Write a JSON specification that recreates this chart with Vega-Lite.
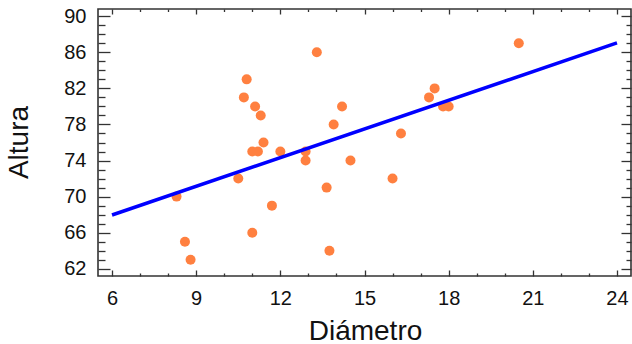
{
  "$schema": "https://vega.github.io/schema/vega-lite/v6.json",
  "width": 533,
  "height": 267,
  "autosize": {"type": "none"},
  "padding": {"left": 98, "top": 9, "right": 1, "bottom": 68},
  "background": "white",
  "config": {
    "view": {"stroke": "#333333", "strokeWidth": 1.6},
    "axis": {"grid": false, "domain": false, "tickColor": "#333333", "tickWidth": 1.3, "labelFont": "Liberation Sans", "titleFont": "Liberation Sans", "labelColor": "#111111", "titleColor": "#111111", "labelFontSize": 20, "titleFontWeight": "normal"}
  },
  "datasets": {
    "pts": [
      {"d": 13.3, "a": 86}, {"d": 10.8, "a": 83}, {"d": 10.7, "a": 81}, {"d": 11.1, "a": 80},
      {"d": 11.3, "a": 79}, {"d": 14.2, "a": 80}, {"d": 13.9, "a": 78}, {"d": 11.4, "a": 76},
      {"d": 11.0, "a": 75}, {"d": 11.2, "a": 75}, {"d": 12.0, "a": 75}, {"d": 12.9, "a": 75},
      {"d": 12.9, "a": 74}, {"d": 14.5, "a": 74}, {"d": 10.5, "a": 72}, {"d": 8.3, "a": 70},
      {"d": 13.65, "a": 71}, {"d": 11.7, "a": 69}, {"d": 11.0, "a": 66}, {"d": 8.6, "a": 65},
      {"d": 8.8, "a": 63}, {"d": 13.75, "a": 64}, {"d": 20.5, "a": 87}, {"d": 17.5, "a": 82},
      {"d": 17.3, "a": 81}, {"d": 17.8, "a": 80}, {"d": 18.0, "a": 80}, {"d": 16.3, "a": 77},
      {"d": 16.0, "a": 72}
    ],
    "fit": [{"d": 6, "a": 67.96}, {"d": 24, "a": 87.04}]
  },
  "resolve": {"axis": {"x": "independent", "y": "independent"}},
  "layer": [
    {
      "data": {"name": "pts"},
      "mark": {"type": "circle", "color": "#FF8040", "opacity": 1, "size": 100},
      "encoding": {
        "x": {"field": "d", "type": "quantitative", "scale": {"domain": [5.5, 24.5], "nice": false, "zero": false},
          "axis": {"orient": "bottom", "values": [6, 9, 12, 15, 18, 21, 24], "tickSize": -6, "labelPadding": 18.5, "title": "Diámetro", "titleFontSize": 28, "titleBaseline": "alphabetic", "titleX": 267, "titleY": 63, "titleAlign": "center"}},
        "y": {"field": "a", "type": "quantitative", "scale": {"domain": [61.2, 90.8], "nice": false, "zero": false},
          "axis": {"orient": "left", "values": [62, 66, 70, 74, 78, 82, 86, 90], "tickSize": -12, "labelPadding": 24, "title": "Altura", "titleFontSize": 28, "titleAngle": -90, "titleBaseline": "alphabetic", "titleX": -71, "titleY": 133, "titleAlign": "center"}}
      }
    },
    {
      "data": {"name": "fit"},
      "mark": {"type": "line", "color": "#0000FF", "strokeWidth": 3.5},
      "encoding": {
        "x": {"field": "d", "type": "quantitative",
          "axis": {"orient": "bottom", "values": [7, 8, 10, 11, 13, 14, 16, 17, 19, 20, 22, 23], "tickSize": -3, "labels": false, "title": null}},
        "y": {"field": "a", "type": "quantitative",
          "axis": {"orient": "left", "values": [63, 64, 65, 67, 68, 69, 71, 72, 73, 75, 76, 77, 79, 80, 81, 83, 84, 85, 87, 88, 89], "tickSize": -7, "labels": false, "title": null}}
      }
    },
    {
      "data": {"name": "fit"},
      "mark": {"type": "line", "opacity": 0},
      "encoding": {
        "x": {"field": "d", "type": "quantitative",
          "axis": {"orient": "top", "values": [6, 9, 12, 15, 18, 21, 24], "tickSize": -5, "labels": false, "title": null}},
        "y": {"field": "a", "type": "quantitative",
          "axis": {"orient": "right", "values": [62, 66, 70, 74, 78, 82, 86, 90], "tickSize": -10, "labels": false, "title": null}}
      }
    },
    {
      "data": {"name": "fit"},
      "mark": {"type": "line", "opacity": 0},
      "encoding": {
        "x": {"field": "d", "type": "quantitative",
          "axis": {"orient": "top", "values": [7, 8, 10, 11, 13, 14, 16, 17, 19, 20, 22, 23], "tickSize": -2.5, "labels": false, "title": null}},
        "y": {"field": "a", "type": "quantitative",
          "axis": {"orient": "right", "values": [63, 64, 65, 67, 68, 69, 71, 72, 73, 75, 76, 77, 79, 80, 81, 83, 84, 85, 87, 88, 89], "tickSize": -5, "labels": false, "title": null}}
      }
    }
  ]
}
